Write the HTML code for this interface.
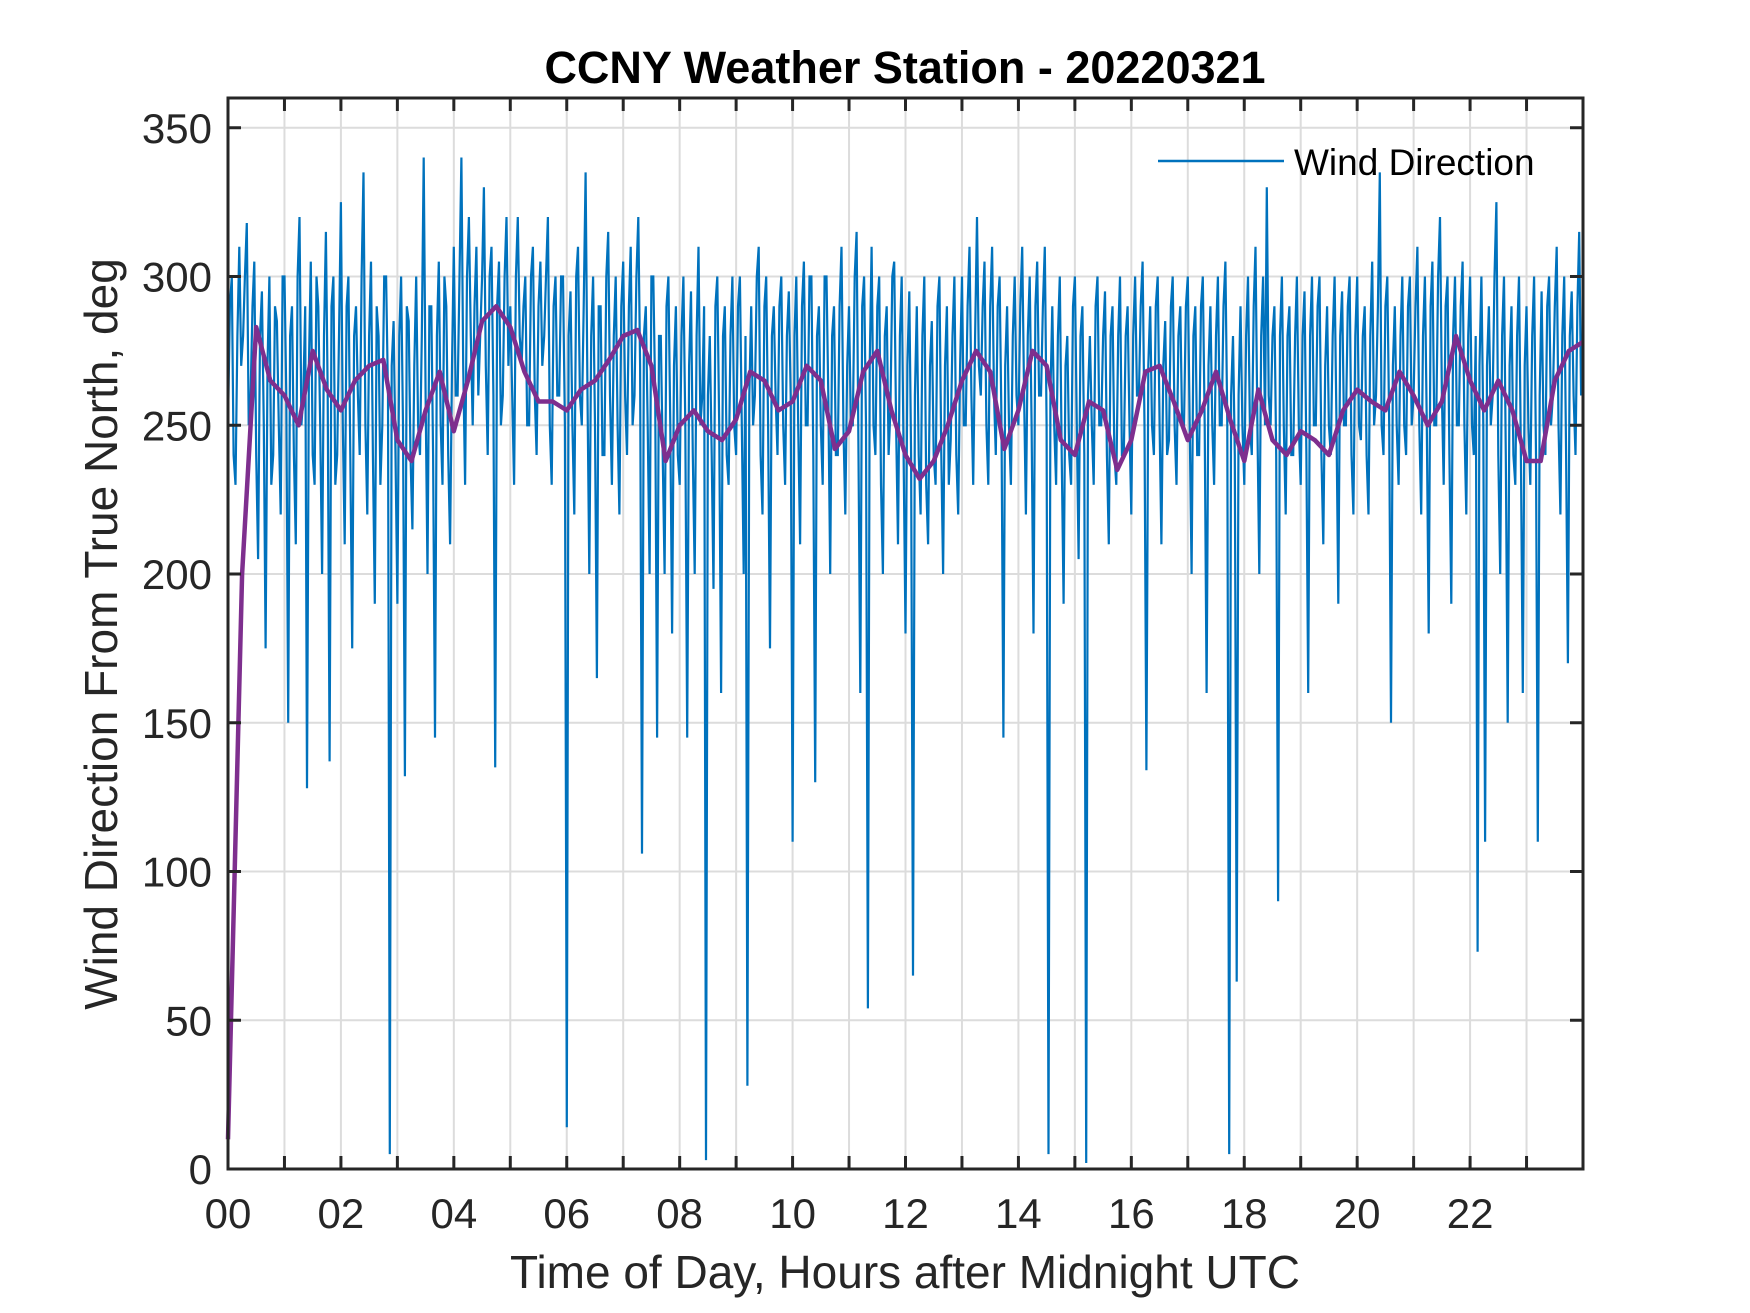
<!DOCTYPE html>
<html><head><meta charset="utf-8"><style>
html,body{margin:0;padding:0;background:#fff;}
svg{display:block;font-family:"Liberation Sans",Arial,sans-serif;}
</style></head><body>
<svg id="chart" width="1750" height="1313" viewBox="0 0 1750 1313" xmlns="http://www.w3.org/2000/svg">
<rect width="1750" height="1313" fill="#fff"/>
<g id="grid"></g>
<g id="series"></g>
<g id="axes"></g>
<text x="905" y="83" text-anchor="middle" font-size="45" font-weight="bold" fill="#000">CCNY Weather Station - 20220321</text>
<text x="905" y="1288" text-anchor="middle" font-size="46" fill="#262626">Time of Day, Hours after Midnight UTC</text>
<text transform="translate(117,634) rotate(-90)" text-anchor="middle" font-size="46" fill="#262626">Wind Direction From True North, deg</text>
<g>
<line x1="1158" y1="161" x2="1284" y2="161" stroke="#0072BD" stroke-width="2.5"/>
<text x="1294" y="175" font-size="37" fill="#000">Wind Direction</text>
</g>
</svg>
<script>
const xTicks=[0,2,4,6,8,10,12,14,16,18,20,22];
const xTickLabels=["00","02","04","06","08","10","12","14","16","18","20","22"];
const yTicks=[0,50,100,150,200,250,300,350];
const windDir=[
250,290,300,240,230,280,310,270,280,300,318,250,260,290,305,240,205,280,295,250,175,270,300,230,240,290,285,250,220,300,
300,260,150,280,290,240,210,300,320,250,260,290,128,270,305,240,230,300,290,250,200,280,315,260,137,290,300,230,240,280,
325,250,210,290,300,240,175,280,290,260,240,300,335,250,220,280,305,240,190,290,280,230,250,300,300,260,5,270,285,240,
190,280,300,250,132,290,285,240,215,270,300,250,240,280,340,260,200,290,290,240,145,280,305,250,230,300,290,240,210,270,
310,260,260,300,340,270,230,300,320,280,250,290,310,260,280,300,330,270,240,300,310,260,135,290,305,250,260,300,320,270,
290,260,230,300,320,280,270,290,300,250,250,300,310,260,240,290,305,270,280,300,320,250,230,290,300,260,260,300,300,250,
14,280,295,250,220,300,310,260,250,290,335,260,200,280,300,250,165,290,290,240,240,300,315,260,230,280,300,250,220,290,
305,260,240,290,310,250,260,300,320,270,106,280,290,250,200,300,300,260,145,280,280,240,200,290,300,250,180,270,290,240,
230,280,300,250,145,270,295,240,200,280,310,250,260,290,3,260,280,240,195,290,300,250,160,280,290,240,230,280,300,250,
240,290,300,250,200,280,28,260,290,250,260,300,310,240,220,290,300,250,175,280,290,260,240,290,300,250,230,280,295,260,
110,280,300,250,210,290,305,250,250,300,300,240,130,280,290,250,230,300,300,260,200,280,290,240,240,290,310,250,220,270,
290,250,250,300,315,240,160,290,300,250,54,270,310,250,240,290,300,230,200,280,290,240,255,300,305,250,210,280,300,240,
180,270,295,240,65,260,290,240,220,280,300,230,210,270,285,240,230,290,300,240,200,270,290,230,245,280,300,240,220,270,
300,250,250,290,310,260,230,280,320,270,260,290,305,250,230,290,310,260,240,290,300,250,145,270,290,250,230,280,300,260,
250,290,310,260,220,280,300,250,180,290,305,260,260,290,310,250,5,260,290,250,230,280,300,240,190,270,280,240,230,290,
300,250,205,280,290,240,2,260,280,250,230,290,300,250,250,280,295,240,210,280,290,240,230,280,300,240,240,280,290,250,
220,280,300,260,260,290,305,250,134,270,290,250,240,290,300,250,210,270,285,240,245,290,300,250,230,280,290,250,250,290,
300,250,200,280,290,240,240,290,300,250,160,270,290,250,230,280,300,250,250,290,305,250,5,260,280,240,63,260,290,250,
230,280,300,250,240,290,310,250,200,280,300,250,330,260,250,280,290,240,90,280,300,250,220,280,290,240,240,280,300,250,
230,280,295,240,160,280,300,250,250,290,300,240,210,270,290,250,240,280,300,250,190,280,295,250,250,290,300,240,220,280,
300,250,245,280,290,240,220,280,305,250,260,290,335,250,240,290,300,250,150,270,290,250,230,280,300,250,240,290,300,250,
260,290,310,250,220,280,300,250,180,290,305,250,250,300,320,260,230,290,300,240,190,280,300,250,250,290,305,250,220,280,
300,250,240,280,73,270,300,250,110,270,290,250,260,300,325,240,200,280,300,240,150,270,290,240,230,280,300,240,160,270,
290,250,230,280,300,240,110,260,295,250,240,290,300,250,260,290,310,250,220,280,300,240,170,280,295,260,240,290,315,260];
const smoothDir=[10,200,283,265,260,250,275,262,255,265,270,272,245,238,255,268,248,265,285,290,283,268,258,258,255,262,265,272,280,282,270,238,250,255,248,245,252,268,265,255,258,270,265,242,248,268,275,255,240,232,238,250,265,275,268,242,255,275,270,245,240,258,255,235,245,268,270,258,245,255,268,252,238,262,245,240,248,245,240,255,262,258,255,268,260,250,258,280,265,255,265,255,238,238,265,275,278];
const L=228,R=1583,T=98,B=1169;
const xs=h=>L+(h/24)*(R-L);
const ys=v=>B-(v/360)*(B-T);
const NS="http://www.w3.org/2000/svg";
function mk(tag,attrs,parent){const e=document.createElementNS(NS,tag);for(const k in attrs)e.setAttribute(k,attrs[k]);parent.appendChild(e);return e;}
const grid=document.getElementById('grid'),axes=document.getElementById('axes'),series=document.getElementById('series');
for(let h=1;h<24;h++){const l=mk('line',{x1:xs(h),x2:xs(h),y1:T,y2:B,stroke:'#dcdcdc','stroke-width':2},grid);

}
yTicks.forEach(v=>{if(v===0)return;const l=mk('line',{x1:L,x2:R,y1:ys(v),y2:ys(v),stroke:'#dcdcdc','stroke-width':2},grid);

});
let p='';windDir.forEach((v,i)=>{p+=(i?'L':'M')+xs(i*24/windDir.length).toFixed(1)+','+ys(v).toFixed(1);});
const bl=mk('path',{d:p,fill:'none',stroke:'#0072BD','stroke-width':2.2,'stroke-linejoin':'miter'},series);


let q='';smoothDir.forEach((v,i)=>{q+=(i?'L':'M')+xs(i*24/(smoothDir.length-1)).toFixed(1)+','+ys(v).toFixed(1);});
const pl=mk('path',{d:q,fill:'none',stroke:'#7E2F8E','stroke-width':4.5,'stroke-linejoin':'round'},series);


const fr=mk('rect',{x:L,y:T,width:R-L,height:B-T,fill:'none',stroke:'#262626','stroke-width':3},axes);


for(let h=1;h<24;h++){
const t1=mk('line',{x1:xs(h),x2:xs(h),y1:B,y2:B-13,stroke:'#262626','stroke-width':3},axes);


const t2=mk('line',{x1:xs(h),x2:xs(h),y1:T,y2:T+13,stroke:'#262626','stroke-width':3},axes);

}
xTicks.forEach((h,i)=>{const t=mk('text',{x:xs(h),y:1228,'text-anchor':'middle','font-size':42,fill:'#262626'},axes);t.textContent=xTickLabels[i];

});
yTicks.forEach(v=>{
const a=mk('line',{x1:L,x2:L+13,y1:ys(v),y2:ys(v),stroke:'#262626','stroke-width':3},axes);


const b=mk('line',{x1:R,x2:R-13,y1:ys(v),y2:ys(v),stroke:'#262626','stroke-width':3},axes);


const t=mk('text',{x:212,y:ys(v)+15,'text-anchor':'end','font-size':42,fill:'#262626'},axes);t.textContent=v;

});
</script>
</body></html>
